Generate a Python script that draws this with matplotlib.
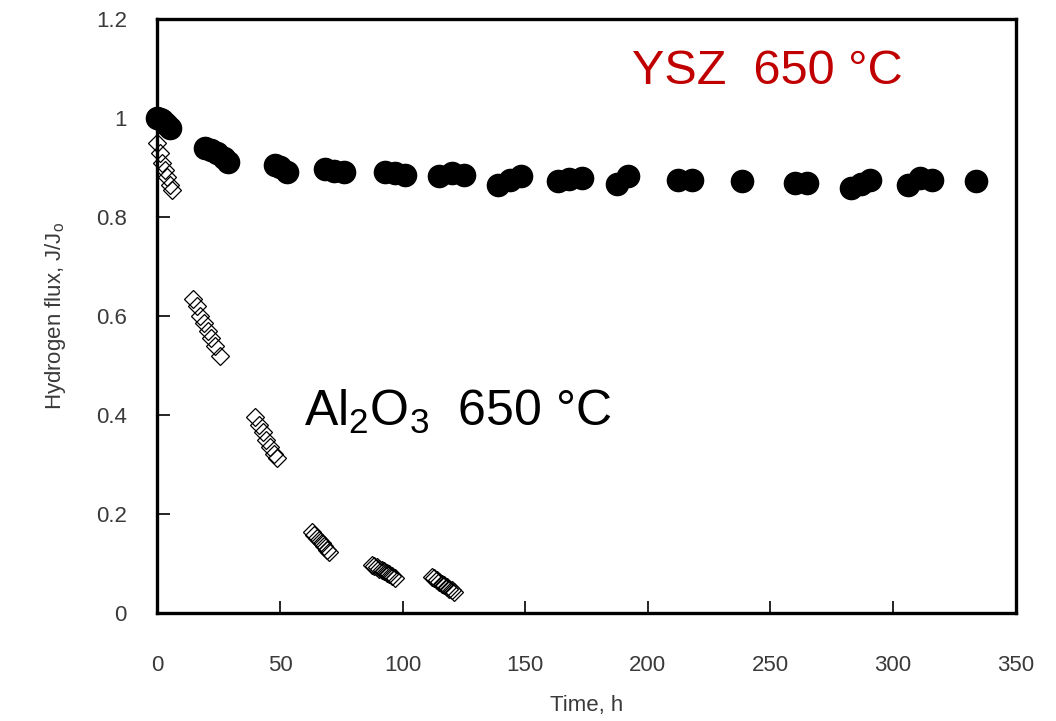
import matplotlib.pyplot as plt

plt.rcParams['font.family'] = ['Liberation Sans Narrow', 'DejaVu Sans Condensed', 'Liberation Sans', 'DejaVu Sans']

# YSZ membrane, 650 °C (filled circles)
t_ysz = [0, 1, 2, 3, 4, 5,
         19.5, 22, 24.5, 27, 29,
         48, 50, 53,
         68.5, 72, 76,
         93, 97, 101,
         115, 120, 125,
         139, 144, 148.5,
         163.5, 168, 173,
         187.5, 192,
         212.5, 218,
         238.5,
         260, 265,
         283, 287, 290.5,
         306, 311, 316,
         334]
j_ysz = [1.0, 0.998, 0.995, 0.99, 0.985, 0.98,
         0.94, 0.935, 0.93, 0.92, 0.912,
         0.905, 0.9, 0.891,
         0.897, 0.893, 0.891,
         0.89, 0.888, 0.885,
         0.883, 0.889, 0.885,
         0.865, 0.875, 0.883,
         0.872, 0.876, 0.878,
         0.867, 0.883,
         0.875, 0.875,
         0.873,
         0.869, 0.869,
         0.859, 0.867, 0.875,
         0.865, 0.879, 0.875,
         0.873]

# Al2O3 membrane, 650 °C (open diamonds)
t_al = [0, 1, 2, 3, 4, 5, 6,
        14.5, 16, 17.5, 19, 20.5, 22, 23.5, 25.5,
        40, 41.5, 43, 44.5, 46, 47.5, 49,
        63, 64, 65, 66, 67, 68, 69, 70,
        87.5, 88.5, 89.5, 90.5, 91.5, 92.5, 93.5, 94.5, 95.5, 97,
        112, 113, 114, 115, 116, 117, 118, 119, 120, 121]
j_al = [0.95, 0.93, 0.91, 0.895, 0.88, 0.865, 0.855,
        0.635, 0.62, 0.6, 0.585, 0.57, 0.555, 0.54, 0.52,
        0.395, 0.38, 0.365, 0.35, 0.335, 0.322, 0.312,
        0.163, 0.158, 0.152, 0.147, 0.141, 0.135, 0.128, 0.122,
        0.097, 0.094, 0.092, 0.089, 0.086, 0.084, 0.081, 0.078, 0.075, 0.071,
        0.073, 0.07, 0.066, 0.063, 0.059, 0.056, 0.053, 0.049, 0.046, 0.042]

x_ticks = [0, 50, 100, 150, 200, 250, 300, 350]
y_ticks = [0, 0.2, 0.4, 0.6, 0.8, 1.0, 1.2]
y_labels = ['0', '0.2', '0.4', '0.6', '0.8', '1', '1.2']

fig = plt.figure(figsize=(10.56, 7.21), dpi=100)
ax = fig.add_axes([0.149, 0.150, 0.8127, 0.8236])

ax.plot(t_al, j_al, 'D', ms=9, mfc='none', mec='black', mew=0.9, clip_on=False)
ax.plot(t_ysz, j_ysz, 'o', ms=16, color='black', clip_on=False)

ax.set_xlim(0, 350)
ax.set_ylim(0, 1.2)
ax.set_xticks(x_ticks)
ax.set_yticks(y_ticks)
ax.set_yticklabels(y_labels)

grey = '#3a3a3a'
ax.tick_params(direction='in', length=9, width=1.2, colors='black',
               labelcolor=grey, labelsize=16)
ax.tick_params(axis='x', pad=30)
ax.tick_params(axis='y', pad=22)
for s in ax.spines.values():
    s.set_linewidth(2.4)

ax.set_xlabel('Time, h', fontsize=16, color=grey, labelpad=14)
ax.set_ylabel('Hydrogen flux, J/J$_\\mathregular{o}$', fontsize=16, color=grey, labelpad=20)

ax.text(0.553, 0.912, 'YSZ  650 °C', transform=ax.transAxes, fontsize=35,
        color='#C00000', family=['Liberation Sans', 'DejaVu Sans'], va='center')
ax.text(0.171, 0.338, 'Al$_\\mathregular{2}$O$_\\mathregular{3}$  650 °C', transform=ax.transAxes,
        fontsize=36, color='black', family=['Liberation Sans', 'DejaVu Sans'], va='center')

fig.savefig('out.png', dpi=100)
